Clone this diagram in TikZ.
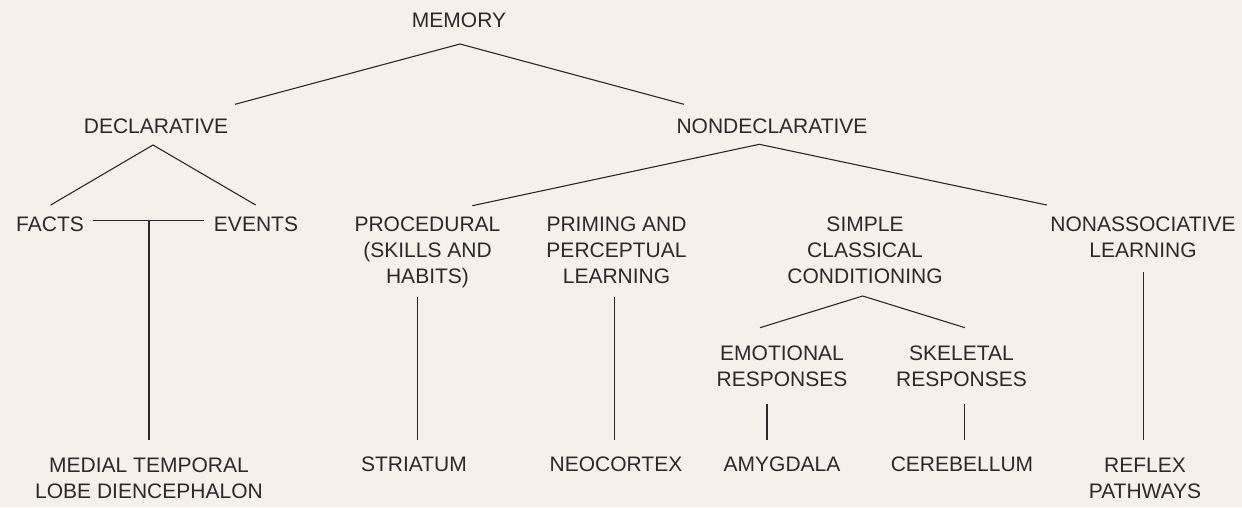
\documentclass[tikz,border=0pt]{standalone}
\usepackage{fontspec}
\setmainfont{Liberation Sans}
\definecolor{paper}{HTML}{F5F0EA}
\definecolor{ink}{HTML}{2B2A29}

\begin{document}
\begin{tikzpicture}[
  x=1pt, y=-1pt,
  term/.style={font=\fontsize{21}{26}\selectfont, text=ink, align=center, anchor=base, inner sep=0pt},
  branch/.style={draw=ink, line width=1.1pt}
]
  \fill[paper] (0,0) rectangle (1242,507);

  % terms, placed at their last baseline
  \node[term] (memory) at (459,27) {MEMORY};
  \node[term] (decl) at (156,133) {DECLARATIVE};
  \node[term] (nondecl) at (772,133) {NONDECLARATIVE};
  \node[term] (facts) at (50,231) {FACTS};
  \node[term] (events) at (256,231) {EVENTS};
  \node[term] (proc) at (427.5,283.7) {PROCEDURAL\\(SKILLS AND\\HABITS)};
  \node[term] (priming) at (616.5,283.7) {PRIMING AND\\PERCEPTUAL\\LEARNING};
  \node[term] (simple) at (865,283.7) {SIMPLE\\CLASSICAL\\CONDITIONING};
  \node[term] (nonassoc) at (1143,257) {NONASSOCIATIVE\\LEARNING};
  \node[term] (emotional) at (782,386.7) {EMOTIONAL\\RESPONSES};
  \node[term] (skeletal) at (961.5,386.7) {SKELETAL\\RESPONSES};
  \node[term] (medial) at (149,498) {MEDIAL TEMPORAL\\LOBE DIENCEPHALON};
  \node[term] (striatum) at (414,471.7) {STRIATUM};
  \node[term] (neocortex) at (616,471.7) {NEOCORTEX};
  \node[term] (amygdala) at (782,471.7) {AMYGDALA};
  \node[term] (cerebellum) at (962,471.7) {CEREBELLUM};
  \node[term] (reflex) at (1145,498) {REFLEX\\PATHWAYS};

  % forks and stems
  \coordinate (memory-fork) at (460,44);
  \coordinate (decl-top) at (235,104.3);
  \coordinate (nondecl-top) at (684,104.3);
  \coordinate (decl-fork) at (153,145);
  \coordinate (facts-top) at (50.7,205);
  \coordinate (events-top) at (255.7,205);
  \coordinate (facts-end) at (93.3,220.7);
  \coordinate (events-end) at (204.3,220.7);
  \coordinate (fe-mid) at (149,220.7);
  \coordinate (medial-top) at (149,440);
  \coordinate (nondecl-fork) at (759.3,144.3);
  \coordinate (proc-top) at (472.3,205.7);
  \coordinate (nonassoc-top) at (1046.7,205);
  \coordinate (proc-stem) at (417.3,296.7);
  \coordinate (striatum-top) at (417.3,440);
  \coordinate (priming-stem) at (614.3,296.7);
  \coordinate (neocortex-top) at (614.3,440);
  \coordinate (simple-fork) at (862.7,296);
  \coordinate (emotional-top) at (760,327.7);
  \coordinate (skeletal-top) at (965,327.7);
  \coordinate (emotional-stem) at (767,404);
  \coordinate (amygdala-top) at (767,440);
  \coordinate (skeletal-stem) at (964.3,404);
  \coordinate (cerebellum-top) at (964.3,440);
  \coordinate (nonassoc-stem) at (1143.7,272.3);
  \coordinate (reflex-top) at (1143.7,440);

  \draw[branch] (decl-top) -- (memory-fork) -- (nondecl-top);
  \draw[branch] (facts-top) -- (decl-fork) -- (events-top);
  \draw[branch] (facts-end) -- (events-end);
  \draw[branch] (fe-mid) -- (medial-top);
  \draw[branch] (proc-top) -- (nondecl-fork) -- (nonassoc-top);
  \draw[branch] (proc-stem) -- (striatum-top);
  \draw[branch] (priming-stem) -- (neocortex-top);
  \draw[branch] (emotional-top) -- (simple-fork) -- (skeletal-top);
  \draw[branch] (emotional-stem) -- (amygdala-top);
  \draw[branch] (skeletal-stem) -- (cerebellum-top);
  \draw[branch] (nonassoc-stem) -- (reflex-top);
\end{tikzpicture}
\end{document}
